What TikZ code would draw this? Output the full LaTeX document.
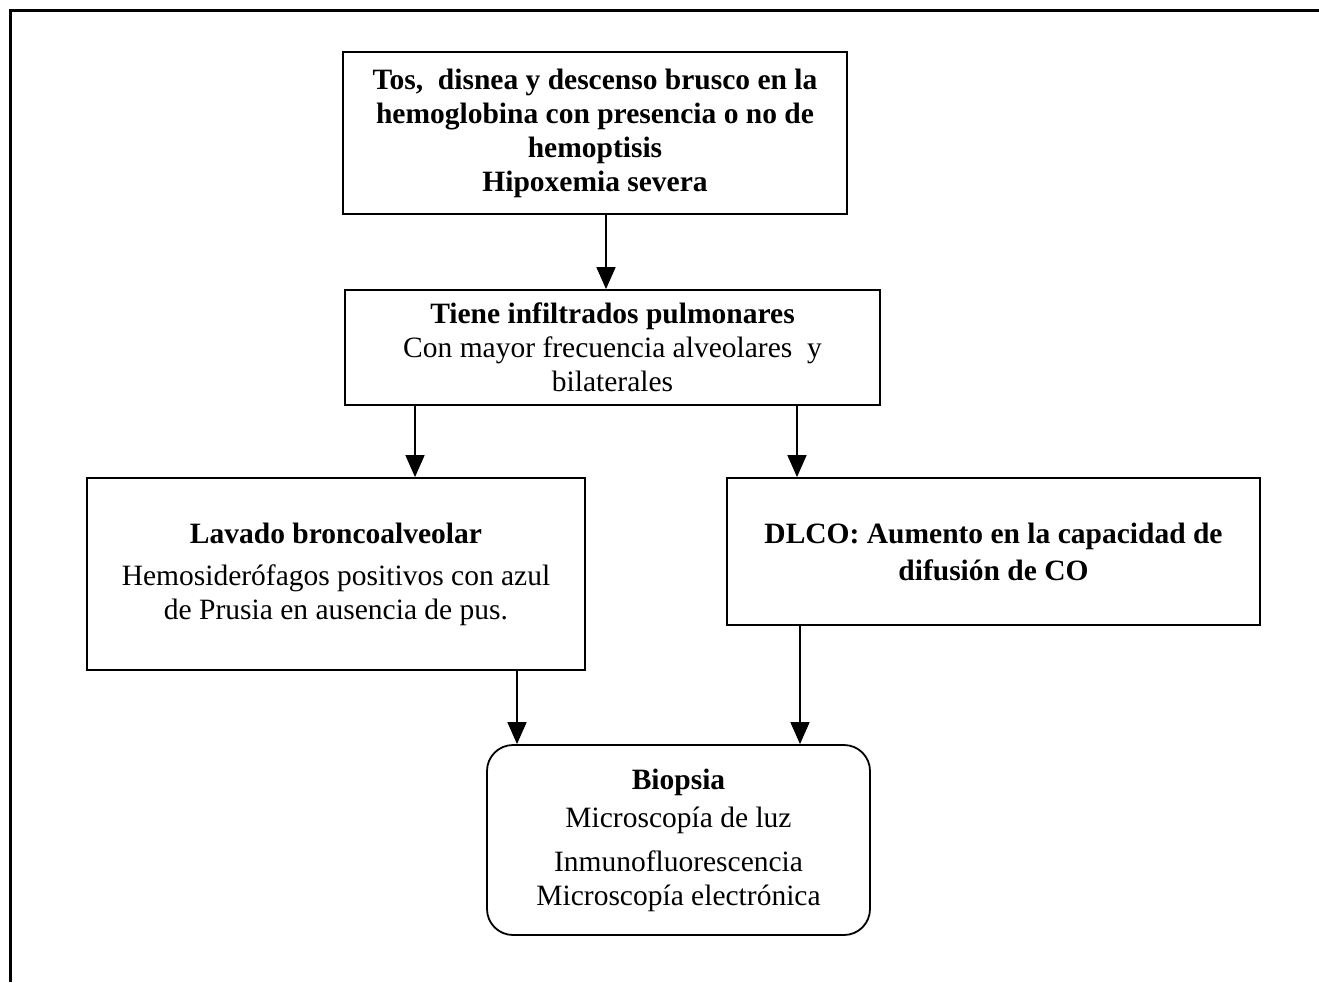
\documentclass[tikz,border=0pt]{standalone}
\usepackage{fontspec}
\setmainfont{Liberation Serif}
\usetikzlibrary{arrows.meta}
\begin{document}
\begin{tikzpicture}[x=1pt,y=-1pt,
  boxnode/.style={draw,line width=1.8pt,rectangle,inner sep=0pt,align=center,
    font=\fontsize{29.5}{34}\selectfont},
  conn/.style={line width=1.6pt,-{Triangle[width=19pt,length=22pt]}}]
\useasboundingbox (0,0) rectangle (1319,982);
\draw[line width=3pt] (10,982) -- (10,11) -- (1320,11);
\node[boxnode,minimum width=504pt,minimum height=162pt] (b1) at (595,133)
  {\bfseries Tos,\ \ disnea y descenso brusco en la\\ \bfseries hemoglobina con presencia o no de\\ \bfseries hemoptisis\\ \bfseries Hipoxemia severa};
\node[boxnode,minimum width=535pt,minimum height=115pt] (b2) at (612.5,347.5)
  {\bfseries Tiene infiltrados pulmonares\\ Con mayor frecuencia alveolares\ \ y\\ bilaterales};
\node[boxnode,minimum width=498pt,minimum height=192pt] (b3) at (336,574)
  {\bfseries Lavado broncoalveolar\\[8pt] Hemosiderófagos positivos con azul\\ de Prusia en ausencia de pus.};
\node[boxnode,minimum width=533pt,minimum height=147pt] (b4) at (993.5,551.5)
  {\bfseries DLCO: Aumento en la capacidad de\\[3pt] \bfseries difusión de CO};
\node[boxnode,rounded corners=26pt,minimum width=383pt,minimum height=190pt] (b5) at (678.5,840)
  {\bfseries Biopsia\\[4pt] Microscopía de luz\\[10pt] Inmunofluorescencia\\ Microscopía electrónica};
\draw[conn] (b1.south -| 606,0) -- (b2.north -| 606,0);
\draw[conn] (b2.south -| 415,0) -- (b3.north -| 415,0);
\draw[conn] (b2.south -| 797,0) -- (b4.north -| 797,0);
\draw[conn] (b3.south -| 517,0) -- (b5.north -| 517,0);
\draw[conn] (b4.south -| 800,0) -- (b5.north -| 800,0);
\end{tikzpicture}
\end{document}
